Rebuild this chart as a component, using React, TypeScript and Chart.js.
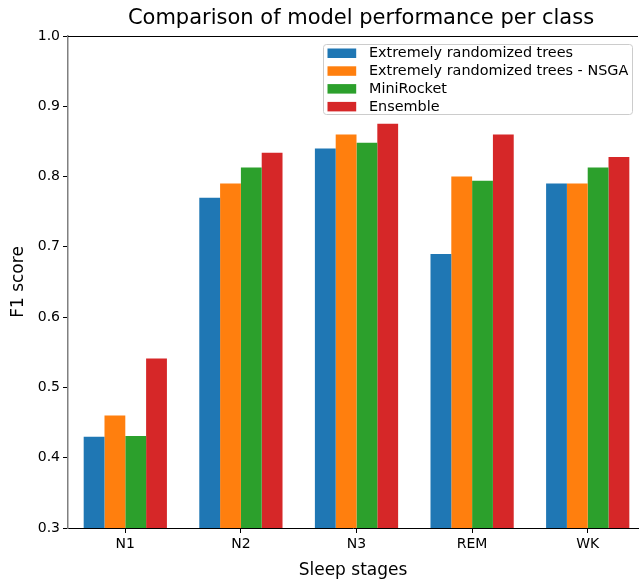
import React, { useEffect, useRef } from "react";
import { Chart, registerables } from "chart.js";

Chart.register(...registerables);

const categories = ["N1", "N2", "N3", "REM", "WK"];
const seriesNames = [
  "Extremely randomized trees",
  "Extremely randomized trees - NSGA",
  "MiniRocket",
  "Ensemble",
];
const extraTrees = [0.43, 0.77, 0.84, 0.69, 0.79];
const extraTreesNSGA = [0.46, 0.79, 0.86, 0.8, 0.79];
const miniRocket = [0.431, 0.813, 0.848, 0.794, 0.813];
const ensemble = [0.541, 0.834, 0.875, 0.86, 0.828];
const seriesColors = ["#1f77b4", "#ff7f0e", "#2ca02c", "#d62728"];
const yMin = 0.3;
const yMax = 1.0;
const yStep = 0.1;
const titleText = "Comparison of model performance per class";
const xTitle = "Sleep stages";
const yTitle = "F1 score";

const FONT = '"DejaVu Sans", "Liberation Sans", sans-serif';

const decorPlugin = {
  id: "decor",
  afterDraw(chart: any) {
    const { ctx, chartArea } = chart;
    ctx.save();
    // top spine
    ctx.strokeStyle = "#000";
    ctx.lineWidth = 1;
    ctx.beginPath();
    ctx.moveTo(chartArea.left, chartArea.top + 0.5);
    ctx.lineTo(chartArea.right, chartArea.top + 0.5);
    ctx.stroke();

    // title
    ctx.fillStyle = "#000";
    ctx.font = `21px ${FONT}`;
    ctx.textAlign = "center";
    ctx.textBaseline = "alphabetic";
    ctx.fillText(titleText, chartArea.left + (chartArea.right - chartArea.left) / 2 + 8, 24);

    // legend
    const bx = chartArea.right - 315;
    const by = chartArea.top + 8;
    const bw = 309;
    const bh = 70;
    ctx.fillStyle = "rgba(255,255,255,0.8)";
    ctx.strokeStyle = "#cccccc";
    ctx.lineWidth = 1;
    ctx.beginPath();
    (ctx as any).roundRect(bx + 0.5, by + 0.5, bw, bh, 3);
    ctx.fill();
    ctx.stroke();
    ctx.font = `14.4px ${FONT}`;
    ctx.textAlign = "left";
    ctx.textBaseline = "middle";
    chart.data.datasets.forEach((ds: any, i: number) => {
      const cy = by + 9 + i * 17.8;
      ctx.fillStyle = ds.backgroundColor;
      ctx.fillRect(bx + 4.5, cy - 4.5, 28.7, 9.5);
      ctx.fillStyle = "#000";
      ctx.fillText(ds.label, bx + 46, cy + 0.5);
    });
    ctx.restore();
  },
};

export default function App() {
  const ref = useRef<HTMLCanvasElement>(null);

  useEffect(() => {
    if (!ref.current) return;
    const datasets = [extraTrees, extraTreesNSGA, miniRocket, ensemble].map((vals, i) => ({
      label: seriesNames[i],
      data: vals.map((v, j) => ({ x: j, y: v })),
      backgroundColor: seriesColors[i],
      borderWidth: 0,
      categoryPercentage: 0.72,
      barPercentage: 1.0,
    }));
    const chart = new Chart(ref.current, {
      type: "bar",
      data: { datasets },
      plugins: [decorPlugin],
      options: {
        animation: false,
        responsive: false,
        maintainAspectRatio: false,
        devicePixelRatio: 1,
        layout: { padding: { top: 36, right: 1, left: 0, bottom: 0 } },
        plugins: {
          legend: { display: false },
          title: { display: false },
          tooltip: { enabled: false },
        },
        scales: {
          x: {
            type: "linear",
            min: -0.4957,
            max: 4.435,
            offset: false,
            afterBuildTicks: (axis: any) => {
              axis.ticks = categories.map((_, i) => ({ value: i }));
            },
            afterFit: (axis: any) => {
              axis.height = 57;
            },
            grid: {
              offset: false,
              drawOnChartArea: false,
              drawTicks: true,
              tickLength: 5,
              color: "#000",
            },
            border: { display: true, color: "#000", width: 1 },
            ticks: {
              autoSkip: false,
              maxRotation: 0,
              padding: 3,
              color: "#000",
              font: { family: FONT, size: 14 },
              callback: (v: any) => categories[Math.round(Number(v))] ?? "",
            },
            title: {
              display: true,
              text: xTitle,
              color: "#000",
              font: { family: FONT, size: 17 },
              padding: { top: 0, bottom: 4 },
            },
          },
          y: {
            type: "linear",
            min: yMin,
            max: yMax,
            afterFit: (axis: any) => {
              axis.width = 68;
            },
            grid: {
              drawOnChartArea: false,
              drawTicks: true,
              tickLength: 5,
              color: "#000",
            },
            border: { display: true, color: "#808080", width: 1.5 },
            ticks: {
              stepSize: yStep,
              padding: 3,
              color: "#000",
              font: { family: FONT, size: 14 },
              callback: (v: any) => Number(v).toFixed(1),
            },
            title: {
              display: true,
              text: yTitle,
              color: "#000",
              font: { family: FONT, size: 17 },
              padding: { top: 8, bottom: 0 },
            },
          },
        },
      },
    } as any);
    return () => chart.destroy();
  }, []);

  return (
    <div style={{ position: "fixed", left: 0, top: 0, width: 639, height: 585, background: "#fff" }}>
      <canvas ref={ref} width={639} height={585} style={{ display: "block", width: 639, height: 585 }} />
    </div>
  );
}
